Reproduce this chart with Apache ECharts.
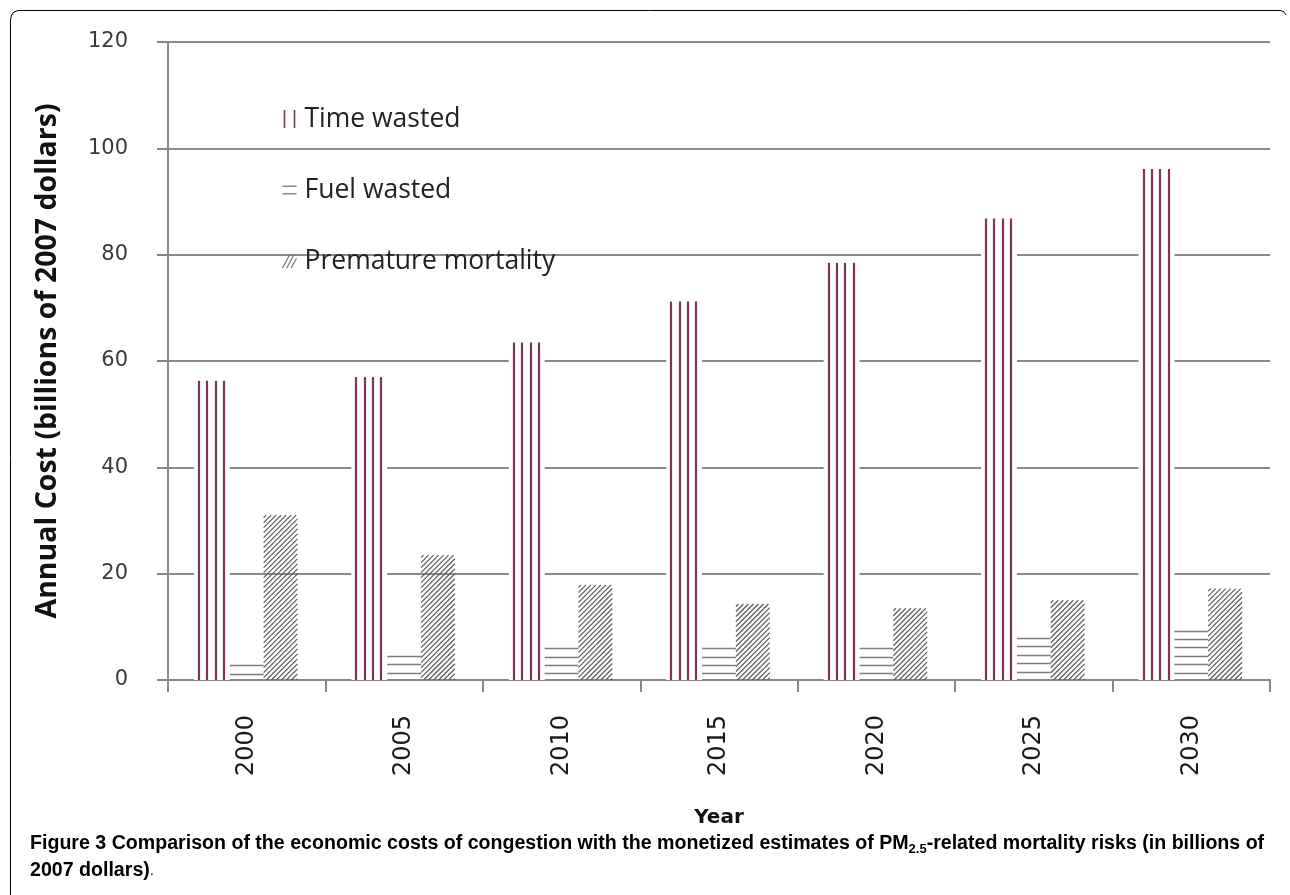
<!DOCTYPE html>
<html>
<head>
<meta charset="utf-8">
<script src="https://cdn.jsdelivr.net/npm/echarts@6/dist/echarts.min.js"></script>
<style>
html,body{margin:0;padding:0;background:#fff;}
#chart{width:1290px;height:895px;}
</style>
</head>
<body>
<div id="chart"></div>
<script>
var years = ['2000', '2005', '2010', '2015', '2020', '2025', '2030'];
var timeWasted = [56.3, 57.0, 63.5, 71.2, 78.5, 86.8, 96.1];
var fuelWasted = [2.8, 4.5, 6.0, 6.0, 6.0, 7.9, 9.3];
var mortality = [31.0, 23.5, 17.9, 14.3, 13.5, 15.0, 17.2];
var yTicks = { min: 0, max: 120, interval: 20 };

var TIME_COLOR = '#7f3559';
var FUEL_COLOR = '#7e7e7e';
var HATCH_COLOR = '#5c5c5c';

function barRect(api, idx) {
  var cat = api.value(0), val = api.value(1);
  var base = api.coord([cat, 0]);
  var top = api.coord([cat, val]);
  var catW = api.size([1, 0])[0];
  var bw = catW * 0.215;
  var x0 = base[0] + (idx - 1.5) * bw;
  return { x0: x0, x1: x0 + bw, y0: top[1], y1: base[1], bw: bw };
}

function renderTime(params, api) {
  var r = barRect(api, 0);
  var children = [{
    type: 'rect',
    shape: { x: r.x0 - 2, y: r.y0, width: r.bw + 2, height: r.y1 - r.y0 },
    style: { fill: '#ffffff' }
  }];
  for (var k = 0; k < 4; k++) {
    var x = Math.round(r.x0 + r.bw * (0.09 + k * 0.247));
    children.push({
      type: 'line',
      shape: { x1: x, y1: r.y0, x2: x, y2: r.y1 },
      style: { stroke: TIME_COLOR, lineWidth: 2.2 }
    });
  }
  return { type: 'group', children: children };
}

function renderFuel(params, api) {
  var r = barRect(api, 1);
  var children = [];
  var step = 8.4;
  for (var y = r.y0; y <= r.y1 - 3; y += step) {
    var yy = Math.round(y) + 0.5;
    children.push({
      type: 'line',
      shape: { x1: r.x0, y1: yy, x2: r.x1, y2: yy },
      style: { stroke: FUEL_COLOR, lineWidth: 1.5 }
    });
  }
  return { type: 'group', children: children };
}

function renderHatch(params, api) {
  var r = barRect(api, 2);
  var children = [];
  var s = 5;
  var cStart = r.x0 + r.y0, cEnd = r.x1 + r.y1;
  for (var c = cStart + s / 2; c < cEnd; c += s) {
    var lo = Math.max(r.x0, c - r.y1);
    var hi = Math.min(r.x1, c - r.y0);
    if (hi - lo > 0.5) {
      children.push({
        type: 'line',
        shape: { x1: lo, y1: c - lo, x2: hi, y2: c - hi },
        style: { stroke: HATCH_COLOR, lineWidth: 1.2 }
      });
    }
  }
  return { type: 'group', children: children };
}

function toData(arr) { return arr.map(function (v, i) { return [i, v]; }); }

var chart = echarts.init(document.getElementById('chart'), null, { renderer: 'canvas' });

var option = {
  animation: false,
  backgroundColor: '#ffffff',
  grid: { left: 168, right: 20, top: 42, bottom: 215, containLabel: false },
  legend: {
    orient: 'vertical',
    left: 280,
    top: 103,
    itemWidth: 14,
    itemHeight: 18,
    itemGap: 39,
    selectedMode: false,
    padding: 0,
    textStyle: { fontFamily: 'Open Sans', fontSize: 26.5, color: '#222', lineHeight: 32, padding: [0, 0, 0, 3] },
    data: [
      { name: 'Time wasted', icon: 'path://M0,0L0,18M10,0L10,18', itemStyle: { color: 'none', borderColor: TIME_COLOR, borderWidth: 1.6 } },
      { name: 'Fuel wasted', icon: 'path://M0,0L13,0M0,7L13,7', itemStyle: { color: 'none', borderColor: '#888', borderWidth: 1.5 } },
      { name: 'Premature mortality', icon: 'path://M0,13L7,0M4,13L11,0M8,13L13,4', itemStyle: { color: 'none', borderColor: '#777', borderWidth: 1.2 } }
    ]
  },
  xAxis: {
    type: 'category',
    data: years,
    boundaryGap: true,
    name: 'Year',
    nameLocation: 'middle',
    nameGap: 128,
    nameTextStyle: { fontFamily: 'DejaVu Sans', fontWeight: 'bold', fontSize: 20, color: '#111' },
    axisLine: { show: true, lineStyle: { color: '#888', width: 2 } },
    axisTick: { show: true, length: 12, lineStyle: { color: '#888', width: 2 } },
    axisLabel: { rotate: 90, fontFamily: 'DejaVu Sans', fontSize: 24, color: '#1a1a1a', margin: 35 },
    splitLine: { show: false }
  },
  yAxis: {
    type: 'value',
    min: yTicks.min,
    max: yTicks.max,
    interval: yTicks.interval,
    name: 'Annual Cost (billions of 2007 dollars)',
    nameLocation: 'middle',
    nameGap: 106,
    nameTextStyle: { fontFamily: 'Open Sans', fontWeight: 'bold', fontSize: 28.5, color: '#111' },
    axisLine: { show: true, lineStyle: { color: '#888', width: 2 } },
    axisTick: { show: true, length: 11, lineStyle: { color: '#888', width: 2 } },
    axisLabel: { fontFamily: 'DejaVu Sans', fontSize: 21, color: '#3a3a3a', margin: 40 },
    splitLine: { show: true, lineStyle: { color: '#8a8a8a', width: 2 } }
  },
  series: [
    { name: 'Time wasted', type: 'custom', renderItem: renderTime, data: toData(timeWasted), itemStyle: { color: TIME_COLOR }, z: 3 },
    { name: 'Fuel wasted', type: 'custom', renderItem: renderFuel, data: toData(fuelWasted), itemStyle: { color: FUEL_COLOR }, z: 3 },
    { name: 'Premature mortality', type: 'custom', renderItem: renderHatch, data: toData(mortality), itemStyle: { color: HATCH_COLOR }, z: 3 }
  ],
  graphic: [
    {
      type: 'polyline',
      shape: { points: [[10.5, 895], [10.5, 20], [11.5, 15], [14, 12], [18, 10.5], [1281, 10.5], [1284, 12], [1286, 15]] },
      style: { stroke: '#000', lineWidth: 1, fill: null },
      silent: true
    },
    {
      type: 'text',
      left: 30,
      top: 834,
      style: {
        text: '{b|Figure 3 }{n|Comparison of the economic costs of congestion with the monetized estimates of PM}{s|2.5}{n|-related mortality risks (in billions of}',
        rich: {
          b: { fontFamily: 'Liberation Sans', fontWeight: 900, fontSize: 19.6, fill: '#000', lineHeight: 24 },
          n: { fontFamily: 'Liberation Sans', fontWeight: 'bold', fontSize: 19.6, fill: '#000', lineHeight: 24 },
          s: { fontFamily: 'Liberation Sans', fontWeight: 'bold', fontSize: 13, fill: '#000', lineHeight: 13, verticalAlign: 'bottom' }
        }
      }
    },
    {
      type: 'text',
      left: 30,
      top: 861,
      style: {
        text: '{n|2007 dollars)}{p|.}',
        rich: {
          n: { fontFamily: 'Liberation Sans', fontWeight: 'bold', fontSize: 19.6, fill: '#000', lineHeight: 24 },
          p: { fontFamily: 'Liberation Sans', fontSize: 15, fill: '#000', lineHeight: 24 }
        }
      }
    }
  ]
};

chart.setOption(option);
</script>
</body>
</html>
